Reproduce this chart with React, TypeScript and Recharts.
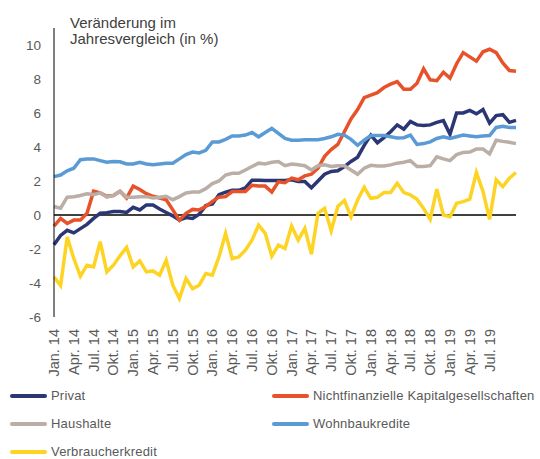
import { CartesianGrid, Line, LineChart, ReferenceLine, XAxis, YAxis } from "recharts";

const monthNames = ["Jan.", "Feb.", "Mär.", "Apr.", "Mai", "Jun.", "Jul.", "Aug.", "Sep.", "Okt.", "Nov.", "Dez."];
const years = ["14", "15", "16", "17", "18", "19"];
const months: string[] = years.flatMap((yr) => monthNames.map((m) => `${m} ${yr}`)).slice(0, 71);

// only quarterly labels are printed, last one is Jul. 19
const shownLabels = months.filter((_, i) => i % 3 === 0 && i <= 66);

const privat = [
  -1.75, -1.2, -0.9, -1.05, -0.8, -0.55, -0.2, 0.1, 0.14, 0.2, 0.2, 0.15, 0.45, 0.3, 0.59, 0.59, 0.35, 0.15,
  -0.05, -0.3, -0.15, -0.2, 0.05, 0.55, 0.65, 1.2, 1.35, 1.45, 1.45, 1.6, 2.05, 2.05, 2.03, 2.03, 2.03, 2.03,
  2.07, 1.97, 1.97, 1.6, 2.0, 2.4, 2.56, 2.6, 2.85, 3.15, 3.4, 4.1, 4.7, 4.25, 4.55, 4.9, 5.3, 5.05, 5.5, 5.3,
  5.26, 5.3, 5.45, 5.55, 4.75, 6.0, 6.0, 6.15, 5.95, 6.2, 5.4, 5.85, 5.9, 5.45, 5.57,
];
const nichtfinanziell = [
  -0.65, -0.2, -0.5, -0.3, -0.3, 0.1, 1.4, 1.3, 1.1, 1.15, 1.4, 1.0, 1.7, 1.5, 1.25, 1.1, 1.0, 0.9, 0.3, -0.3,
  0.1, 0.33, 0.3, 0.5, 0.8, 1.05, 1.08, 1.38, 1.38, 1.38, 1.75, 1.7, 1.7, 1.35, 1.95, 1.9, 2.17, 2.07, 2.3, 2.4,
  2.75, 3.45, 3.85, 4.15, 4.9, 5.65, 6.2, 6.9, 7.05, 7.2, 7.5, 7.7, 7.85, 7.4, 7.4, 7.75, 8.6, 7.95, 7.9, 8.4,
  8.05, 8.9, 9.55, 9.3, 9.05, 9.6, 9.75, 9.55, 8.95, 8.5, 8.46,
];
const haushalte = [
  0.5, 0.4, 1.05, 1.08, 1.15, 1.25, 1.2, 1.3, 1.05, 1.15, 1.4, 1.05, 1.05, 1.08, 1.08, 1.0, 1.05, 1.1, 0.9, 1.08,
  1.3, 1.35, 1.35, 1.55, 1.85, 2.0, 2.35, 2.45, 2.45, 2.65, 2.85, 3.05, 3.0, 3.1, 3.15, 2.9, 3.0, 2.95, 2.9, 2.65,
  2.9, 2.95, 2.85, 2.9, 2.9, 2.65, 2.4, 2.75, 2.92, 2.88, 2.88, 2.95, 3.05, 3.1, 3.2, 2.85, 2.85, 2.9, 3.42, 3.3,
  3.2, 3.55, 3.68, 3.7, 3.88, 3.88, 3.6, 4.4, 4.33, 4.28, 4.2,
];
const wohnbau = [
  2.26, 2.35, 2.6, 2.75, 3.25, 3.3, 3.3, 3.2, 3.1, 3.15, 3.13, 3.0, 3.0, 3.1, 3.0, 2.95, 3.0, 3.05, 3.05, 3.3,
  3.55, 3.7, 3.65, 3.8, 4.3, 4.3, 4.45, 4.65, 4.65, 4.7, 4.85, 4.6, 4.85, 5.1, 4.8, 4.5, 4.4, 4.4, 4.43, 4.43,
  4.43, 4.5, 4.6, 4.75, 4.7, 4.45, 4.1, 4.4, 4.67, 4.67, 4.67, 4.6, 4.53, 4.55, 4.7, 4.15, 4.2, 4.3, 4.5, 4.6,
  4.5, 4.6, 4.7, 4.65, 4.6, 4.65, 4.67, 5.15, 5.22, 5.15, 5.14,
];
const verbraucher = [
  -3.64, -4.15, -1.3, -2.56, -3.6, -2.95, -3.05, -1.57, -3.35, -2.95, -2.4, -1.91, -3.05, -2.7, -3.35, -3.29,
  -3.54, -2.66, -4.13, -4.92, -3.74, -4.33, -4.13, -3.44, -3.54, -2.46, -1.08, -2.56, -2.46, -2.07, -1.48, -0.59,
  -1.08, -2.42, -1.77, -1.97, -0.65, -1.48, -0.79, -2.3, 0.1, 0.39, -0.93, 0.5, 0.85, -0.1, 0.89, 1.63, 0.98,
  1.04, 1.32, 1.32, 1.87, 1.32, 1.18, 0.93, 0.39, -0.26, 1.52, 0.0, -0.1, 0.69, 0.79, 0.93, 2.5, 1.38, -0.26,
  2.07, 1.67, 2.17, 2.5,
];

const yTicks = [-6, -4, -2, 0, 2, 4, 6, 8, 10];

const series = [
  { key: "privat", name: "Privat", color: "#2b3674", values: privat },
  { key: "nfk", name: "Nichtfinanzielle Kapitalgesellschaften", color: "#e8522a", values: nichtfinanziell },
  { key: "haushalte", name: "Haushalte", color: "#bbaea6", values: haushalte },
  { key: "wohnbau", name: "Wohnbaukredite", color: "#5b9bd5", values: wohnbau },
  { key: "verbraucher", name: "Verbraucherkredit", color: "#fed424", values: verbraucher },
];

const data = months.map((month, i) => {
  const row: Record<string, string | number> = { month };
  series.forEach((s) => {
    row[s.key] = s.values[i];
  });
  return row;
});

const FONT = "'Liberation Sans', Arial, sans-serif";
const GREY = "#595959";

function MonthTick({ x, y, payload }: any) {
  if (!shownLabels.includes(payload.value)) return null;
  const ty = y + 6;
  return (
    <text
      x={x}
      y={ty}
      transform={`rotate(-90 ${x} ${ty})`}
      textAnchor="end"
      dominantBaseline="central"
      fill={GREY}
      fontSize={14.5}
      fontFamily={FONT}
    >
      {payload.value}
    </text>
  );
}

export default function App() {
  return (
    <div style={{ position: "absolute", left: 0, top: 0, width: 540, height: 459, background: "#fff", fontFamily: FONT }}>
      <div style={{ position: "absolute", left: 70, top: 15, fontSize: 15, lineHeight: "16px", color: "#404040" }}>
        Veränderung im
        <br />
        Jahresvergleich (in %)
      </div>
      <LineChart width={540} height={385} data={data} margin={{ top: 28, right: 24, left: 9, bottom: 0 }}>
        <CartesianGrid stroke="none" />
        <XAxis
          dataKey="month"
          interval={0}
          tick={<MonthTick />}
          tickLine={false}
          axisLine={false}
          height={68}
          tickMargin={0}
        />
        <YAxis
          domain={[-6, 11]}
          ticks={yTicks}
          width={45}
          tickLine={false}
          axisLine={{ stroke: "#000", strokeWidth: 1 }}
          tickMargin={7}
          tick={{ fill: GREY, fontSize: 13.5, fontFamily: FONT }}
        />
        <ReferenceLine y={0} stroke="#000" strokeWidth={1.3} />
        {series.map((s) => (
          <Line
            key={s.key}
            dataKey={s.key}
            name={s.name}
            stroke={s.color}
            strokeWidth={3.5}
            dot={false}
            type="linear"
            isAnimationActive={false}
          />
        ))}
      </LineChart>
      {series.map((s, i) => (
        <div
          key={s.key}
          style={{
            position: "absolute",
            left: i % 2 === 0 ? 10 : 272,
            top: 388 + Math.floor(i / 2) * 28,
            display: "flex",
            alignItems: "center",
            whiteSpace: "nowrap",
            fontSize: 13,
            letterSpacing: 0.2,
            color: GREY,
          }}
        >
          <span style={{ display: "inline-block", width: 37, height: 4, borderRadius: 2, background: s.color, marginRight: 4 }} />
          {s.name}
        </div>
      ))}
    </div>
  );
}
